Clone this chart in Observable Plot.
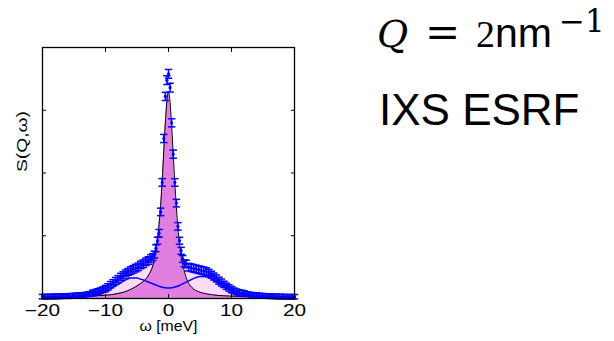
<!DOCTYPE html>
<html><head><meta charset="utf-8">
<script src="https://cdn.jsdelivr.net/npm/d3@7"></script>
<script src="https://cdn.jsdelivr.net/npm/@observablehq/plot@0.6"></script>
<style>body{margin:0;background:#fff;} #chart{width:614px;height:341px;}</style>
</head><body><div id="chart"></div>
<script>
// measured spectrum
const dataOmega = [-20,-19.6,-19.2,-18.8,-18.4,-18,-17.6,-17.2,-16.8,-16.4,-16,-15.6,-15.2,-14.8,-14.4,-14,-13.6,-13.2,-12.8,-12.4,-12,-11.6,-11.2,-10.8,-10.4,-10,-9.6,-9.2,-8.8,-8.4,-8,-7.6,-7.2,-6.8,-6.4,-6,-5.6,-5.2,-4.8,-4.4,-4,-3.6,-3.2,-2.8,
  -2.5,-2.25,-2,-1.75,-1.5,-1.25,-1,-0.75,-0.5,-0.25,0,0.25,0.5,0.75,1,1.25,1.5,1.75,2,2.25,2.5,
  2.8,3.2,3.6,4,4.4,4.8,5.2,5.6,6,6.4,6.8,7.2,7.6,8,8.4,8.8,9.2,9.6,10,10.4,10.8,11.2,11.6,12,12.4,12.8,13.2,13.6,14,14.4,14.8,15.2,15.6,16,16.4,16.8,17.2,17.6,18,18.4,18.8,19.2,19.6,20];
const dataS = [0.030,0.028,0.032,0.030,0.034,0.031,0.036,0.034,0.038,0.040,0.037,0.043,0.045,0.047,0.050,0.052,0.056,0.062,0.068,0.076,0.088,0.098,0.110,0.124,0.140,0.158,0.185,0.220,0.250,0.280,0.310,0.345,0.370,0.400,0.425,0.445,0.465,0.485,0.505,0.535,0.555,0.585,0.605,0.635,
  0.66,0.70,0.80,0.92,1.04,1.38,1.85,2.55,3.22,3.48,3.58,3.36,2.80,2.30,1.85,1.52,1.15,0.92,0.76,0.63,0.56,
  0.55,0.50,0.49,0.48,0.47,0.46,0.45,0.44,0.43,0.41,0.38,0.35,0.32,0.285,0.255,0.225,0.195,0.168,0.142,0.122,0.106,0.095,0.086,0.078,0.072,0.066,0.060,0.056,0.052,0.048,0.045,0.042,0.040,0.038,0.036,0.034,0.033,0.032,0.030,0.030,0.028,0.029,0.027,0.028];
const dataErr = [0.035,0.035,0.035,0.035,0.035,0.035,0.035,0.035,0.035,0.035,0.035,0.035,0.035,0.035,0.035,0.035,0.035,0.035,0.035,0.035,
  0.045,0.045,0.045,0.045,0.045,0.05,0.05,0.05,0.05,0.055,0.055,0.055,0.055,0.055,0.055,
  0.06,0.06,0.06,0.06,0.06,0.06,0.06,0.06,0.06,
  0.055,0.055,0.055,0.055,0.06,0.06,0.06,0.065,0.065,0.07,0.07,0.07,0.065,0.065,0.06,0.06,0.06,0.055,0.055,0.055,0.055,
  0.06,0.06,0.06,0.06,0.06,0.06,0.06,0.06,0.06,
  0.055,0.055,0.055,0.055,0.055,0.055,0.05,0.05,0.05,0.05,0.045,0.045,0.045,0.045,0.045,
  0.035,0.035,0.035,0.035,0.035,0.035,0.035,0.035,0.035,0.035,0.035,0.035,0.035,0.035,0.035,0.035,0.035,0.035,0.035,0.035];

// fitted components
const fitOmega = [-20,-18,-16,-14,-12,-10,-9,-8,-7,-6,-5,-4.5,-4,-3.5,-3,-2.5,-2,-1.75,-1.5,-1.25,-1,-0.75,-0.5,-0.25,0,0.25,0.5,0.75,1,1.25,1.5,1.75,2,2.5,3,3.5,4,4.5,5,6,7,8,9,10,12,14,16,18,20];
const fitCentral = [0.03,0.032,0.034,0.036,0.04,0.052,0.062,0.08,0.105,0.145,0.2,0.235,0.27,0.32,0.40,0.52,0.76,0.95,1.18,1.48,1.88,2.35,2.8,3.15,3.3,3.12,2.75,2.3,1.85,1.45,1.12,0.87,0.67,0.44,0.28,0.2,0.15,0.12,0.10,0.075,0.058,0.048,0.042,0.038,0.033,0.03,0.028,0.027,0.026];
const fitTotal = [0.03,0.032,0.037,0.052,0.088,0.155,0.235,0.315,0.385,0.445,0.5,0.53,0.555,0.59,0.625,0.68,0.80,0.97,1.2,1.5,1.9,2.37,2.82,3.17,3.32,3.14,2.77,2.32,1.87,1.47,1.14,0.89,0.72,0.57,0.52,0.5,0.485,0.47,0.455,0.43,0.36,0.28,0.2,0.14,0.078,0.052,0.038,0.03,0.028];
const fitSide = [0.012,0.015,0.02,0.03,0.055,0.115,0.165,0.225,0.285,0.325,0.325,0.31,0.295,0.275,0.255,0.235,0.215,0.205,0.195,0.187,0.18,0.175,0.171,0.168,0.167,0.168,0.171,0.176,0.182,0.19,0.198,0.208,0.22,0.245,0.27,0.295,0.32,0.34,0.35,0.345,0.3,0.235,0.17,0.12,0.06,0.033,0.022,0.016,0.012];

const xTicks = [-20,-10,0,10,20];
const xTickLabels = ["−20","−10","0","10","20"];
const yTicks = [1,2,3];
const xLabel = "ω [meV]";
const yLabel = "S(Q,ω)";
const qParts = ["Q", "=", "2", "nm", "−1"];
const facility = "IXS ESRF";

const points = dataOmega.map((w,i)=>({w, s:dataS[i], e:dataErr[i]}));
const fit = fitOmega.map((w,i)=>({w, c:fitCentral[i], t:fitTotal[i], d:fitSide[i]}));

const cap = {draw(ctx, size){ const w = Math.sqrt(size); ctx.moveTo(-w,0); ctx.lineTo(w,0); }};
const blue = "#0000ff";

const svg = Plot.plot({
  width: 614, height: 341,
  marginLeft: 42, marginRight: 320, marginTop: 47, marginBottom: 43,
  style: {fontFamily: "Liberation Sans, Arial, sans-serif", background: "#fff", overflow: "visible"},
  x: {domain: [-20, 20], label: null},
  y: {domain: [0, 4], label: null},
  marks: [
    Plot.areaY(fit, {x: "w", y: "t", fill: "#fcdcf8", curve: "monotone-x"}),
    Plot.areaY(fit, {x: "w", y: "c", fill: "#e07fdf", curve: "monotone-x"}),
    Plot.line(fit, {x: "w", y: "c", stroke: "#000", strokeWidth: 1, curve: "monotone-x"}),
    Plot.line(fit, {x: "w", y: "d", stroke: blue, strokeWidth: 1.5, curve: "monotone-x"}),
    Plot.ruleX(points, {x: "w", y1: d => d.s - d.e, y2: d => d.s + d.e, stroke: blue, strokeWidth: 1.5}),
    Plot.dot(points, {x: "w", y: d => d.s + d.e, symbol: cap, r: 2.1, fill: "none", stroke: blue, strokeWidth: 1.5}),
    Plot.dot(points, {x: "w", y: d => d.s - d.e, symbol: cap, r: 2.1, fill: "none", stroke: blue, strokeWidth: 1.5}),
    Plot.dot(points, {x: "w", y: "s", r: 1.6, fill: blue}),
    Plot.frame({stroke: "#000", strokeWidth: 1.3}),
    Plot.axisX({anchor: "bottom", ticks: xTicks, tickSize: -4, tickFormat: () => "", label: null}),
    Plot.axisX({anchor: "top", ticks: xTicks, tickSize: -4, tickFormat: () => "", label: null}),
    Plot.axisY({anchor: "left", ticks: yTicks, tickSize: -4, tickFormat: () => "", label: null}),
    Plot.axisY({anchor: "right", ticks: yTicks, tickSize: -4, tickFormat: () => "", label: null}),
    Plot.axisX({anchor: "bottom", ticks: xTicks, tickSize: 0, tickPadding: 6, fontSize: 16, fill: "#000",
      tickFormat: d => xTickLabels[xTicks.indexOf(d)], label: null}),
    Plot.text([xLabel], {frameAnchor: "bottom", dy: 32, text: d => d, fontSize: 14, fill: "#000"}),
    Plot.text([yLabel], {frameAnchor: "left", dx: -20, dy: -1, rotate: -90, text: d => d, fontSize: 15, fill: "#000"})
  ]
});
document.getElementById("chart").appendChild(svg);

const s = d3.select(svg);
// widen the axis texts a little, as in the reference raster
s.selectAll("text").each(function(){
  const txt = this.textContent;
  const el = d3.select(this);
  if (xTickLabels.includes(txt)) {
    const L = this.getComputedTextLength();
    if (L > 0) el.attr("textLength", L * 1.3).attr("lengthAdjust", "spacingAndGlyphs");
  } else if (txt === xLabel) {
    el.attr("textLength", 58).attr("lengthAdjust", "spacingAndGlyphs");
  } else if (txt === yLabel) {
    el.attr("textLength", 61).attr("lengthAdjust", "spacingAndGlyphs");
  }
});

const t1 = s.append("text").attr("y", 47).attr("fill", "#000").attr("text-anchor", "start");
t1.append("tspan").attr("x", 377).attr("font-family", "DejaVu Serif").attr("font-style", "italic").attr("font-size", 38).text(qParts[0]);
t1.append("tspan").attr("x", 425).attr("font-family", "DejaVu Serif").attr("font-size", 42).text(qParts[1]);
t1.append("tspan").attr("x", 476).attr("font-family", "Liberation Serif").attr("font-size", 38).text(qParts[2]);
t1.append("tspan").attr("x", 495).attr("font-family", "Liberation Sans").attr("font-size", 41).text(qParts[3]);
t1.append("tspan").attr("x", 559).attr("y", 32).attr("font-family", "DejaVu Serif").attr("font-size", 31).text(qParts[4]);
s.append("text").attr("x", 379).attr("y", 125).attr("text-anchor", "start").attr("font-family", "Liberation Sans").attr("font-size", 44).attr("fill", "#000").text(facility);
</script></body></html>
